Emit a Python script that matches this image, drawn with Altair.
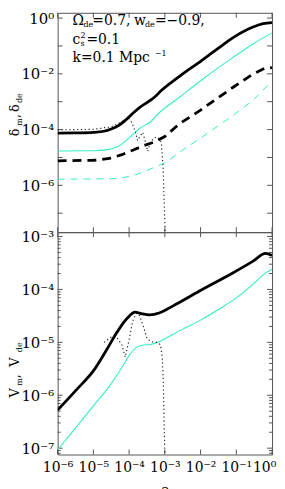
import altair as alt
import pandas as pd

# ---------------- data (log10 values) ----------------
# top panel: density contrasts
dm_loga = [-6, -5.5, -5, -4.7, -4.5, -4.3, -4.1, -3.9, -3.7, -3.5, -3.3, -3.1, -2.6, -2.0, -1.5, -1.1, -0.55, -0.25, 0]
dm_logv = [-4.13, -4.12, -4.1, -4.06, -3.98, -3.86, -3.66, -3.42, -3.2, -3.03, -2.85, -2.6, -2.1, -1.55, -1.08, -0.71, -0.33, -0.2, -0.16]

dde_loga = [-6, -5, -4.6, -4.3, -4.0, -3.7, -3.4, -3.2, -2.6, -2.0, -1.1, -0.5, 0]
dde_logv = [-4.77, -4.76, -4.72, -4.6, -4.3, -3.95, -3.72, -3.45, -2.85, -2.25, -1.42, -0.9, -0.53]

dm2_loga = [-6, -5, -4.8, -4.5, -4.2, -3.9, -3.6, -3.3, -3.0, -2.6, -2.0, -1.1, -0.55, -0.2, 0]
dm2_logv = [-5.12, -5.1, -5.08, -5.02, -4.9, -4.74, -4.58, -4.45, -4.25, -3.8, -3.3, -2.49, -2.02, -1.8, -1.78]

dde2_loga = [-6, -5, -4.5, -4.2, -3.9, -3.6, -3.3, -2.95, -2.58, -2.03, -1.1, -0.55, 0]
dde2_logv = [-5.78, -5.77, -5.76, -5.73, -5.65, -5.52, -5.36, -5.16, -4.8, -4.33, -3.5, -2.97, -2.26]

ddot_loga = [-6, -5, -4.5, -4.2, -4.02, -3.92, -3.82, -3.76, -3.7, -3.62, -3.55, -3.48, -3.4, -3.3, -3.2, -3.1, -3.05, -3.02, -2.99]
ddot_logv = [-4.01, -3.99, -3.9, -3.72, -3.58, -3.75, -4.1, -4.4, -4.25, -4.1, -4.4, -4.78, -4.45, -4.3, -4.27, -4.45, -5.3, -6.5, -7.7]

# bottom panel: velocities
vm_loga = [-6.0, -5.45, -4.99, -4.62, -4.34, -4.06, -3.83, -3.69, -3.42, -3.14, -2.77, -2.03, -1.1, -0.54, -0.18, 0]
vm_logv = [-6.28, -5.88, -5.53, -5.13, -4.81, -4.55, -4.43, -4.45, -4.48, -4.44, -4.31, -4.03, -3.69, -3.47, -3.32, -3.36]

vde_loga = [-6, -5.5, -5.0, -4.5, -4.2, -4.0, -3.8, -3.6, -3.4, -3.2, -3.0, -2.5, -2.0, -1.5, -1.0, -0.5, -0.2, 0]
vde_logv = [-7.03, -6.62, -6.2, -5.78, -5.47, -5.25, -5.1, -5.05, -5.04, -5.0, -4.93, -4.75, -4.58, -4.38, -4.16, -3.88, -3.7, -3.62]

vdot_loga = [-4.7, -4.5, -4.35, -4.2, -4.11, -4.0, -3.9, -3.8, -3.7, -3.6, -3.5, -3.4, -3.3, -3.2, -3.12, -3.07, -3.04, -3.02, -3.0]
vdot_logv = [-5.0, -4.9, -4.9, -5.05, -5.28, -4.95, -4.6, -4.45, -4.5, -4.7, -4.93, -4.98, -5.0, -5.0, -5.05, -5.3, -5.8, -6.5, -7.15]

x_tick_exp = [-6, -5, -4, -3, -2, -1, 0]
top_tick_exp = [0, -1, -2, -3, -4, -5, -6, -7]
top_label_exp = [0, -2, -4, -6]
bot_tick_exp = [-3, -4, -5, -6, -7]

# ---------------- layout ----------------
W = 216
H1 = 221
H2 = 224
FRAME = "#555555"
CYAN = "#33eec4"
FONT = "DejaVu Serif"

xscale = alt.Scale(type="log", domain=[1e-6, 1.0], nice=False)
yscale_top = alt.Scale(type="log", domain=[10 ** -7.68, 10 ** 0.19], nice=False)
yscale_bot = alt.Scale(type="log", domain=[10 ** -7.12, 10 ** -2.917], nice=False)

SUP = "['⁰','⁻¹','⁻²','⁻³','⁻⁴','⁻⁵','⁻⁶','⁻⁷','⁻⁸'][round(-log(datum.value)/LN10)]"
LABEL_EXPR = "'10' + " + SUP

x_axis_bot = alt.Axis(values=[10.0 ** e for e in x_tick_exp], labelExpr=LABEL_EXPR, title="a",
                      labelPadding=6, titlePadding=8, titleFontWeight="normal",
                      labelOverlap=False, labelFlush=False, labelFontSize=14,
                      labelOffset={"expr": "datum.value > 0.5 ? -8 : 0"},
                      titleFont=FONT, titleFontSize=15)


def y_axis(vals):
    return alt.Axis(values=[10.0 ** e for e in vals], labelExpr=LABEL_EXPR, title=None, labelPadding=4,
                    labelOverlap=False, labelFlush=False)


def mk(la, lv):
    return pd.DataFrame({"a": [10.0 ** v for v in la], "v": [10.0 ** v for v in lv]})


def line(la, lv, xenc, yenc, **kw):
    return alt.Chart(mk(la, lv)).mark_line(clip=True, **kw).encode(x=xenc, y=yenc)


def txt(s, x, y, size=14, angle=0, align="left", baseline="alphabetic"):
    return alt.Chart(pd.DataFrame({"t": [s]})).mark_text(
        text=s, font=FONT, fontSize=size, angle=angle, align=align, baseline=baseline, color="black"
    ).encode(x=alt.value(x), y=alt.value(y))


def inner_ticks(xenc_field_scale, yenc_field_scale, H, y_exps, minor=None):
    layers = []
    xt = pd.DataFrame({"a": [10.0 ** e for e in x_tick_exp]})
    xe = alt.X("a:Q", scale=xenc_field_scale[0], axis=xenc_field_scale[1])
    layers.append(alt.Chart(xt).mark_rule(color=FRAME).encode(x=xe, y=alt.value(0), y2=alt.value(5)))
    layers.append(alt.Chart(xt).mark_rule(color=FRAME).encode(x=xe, y=alt.value(H), y2=alt.value(H - 5)))
    yt = pd.DataFrame({"v": [10.0 ** e for e in y_exps]})
    ye = alt.Y("v:Q", scale=yenc_field_scale[0], axis=yenc_field_scale[1])
    layers.append(alt.Chart(yt).mark_rule(color=FRAME).encode(y=ye, x=alt.value(0), x2=alt.value(5)))
    layers.append(alt.Chart(yt).mark_rule(color=FRAME).encode(y=ye, x=alt.value(W), x2=alt.value(W - 5)))
    if minor:
        ym = pd.DataFrame({"v": minor})
        layers.append(alt.Chart(ym).mark_rule(color=FRAME).encode(y=ye, x=alt.value(0), x2=alt.value(3)))
        layers.append(alt.Chart(ym).mark_rule(color=FRAME).encode(y=ye, x=alt.value(W), x2=alt.value(W - 3)))
    return layers


# ---------------- top panel ----------------
xt_enc = alt.X("a:Q", scale=xscale, axis=None)
yt_enc = alt.Y("v:Q", scale=yscale_top, axis=y_axis(top_label_exp))

top_layers = inner_ticks((xscale, None), (yscale_top, y_axis(top_label_exp)), H1, top_tick_exp)
top_layers += [
    line(dde2_loga, dde2_logv, xt_enc, yt_enc, color=CYAN, strokeWidth=1, strokeDash=[7, 6]),
    line(dm2_loga, dm2_logv, xt_enc, yt_enc, color="black", strokeWidth=2.8, strokeDash=[9, 6]),
    line(dde_loga, dde_logv, xt_enc, yt_enc, color=CYAN, strokeWidth=1.1, interpolate="monotone"),
    line(ddot_loga, ddot_logv, xt_enc, yt_enc, color="#222222", strokeWidth=1.1, strokeDash=[1.3, 2.6]),
    line(dm_loga, dm_logv, xt_enc, yt_enc, color="black", strokeWidth=2.8, interpolate="monotone"),
    # annotation
    txt("Ω", 15, 12), txt("de", 26, 14.5, size=8), txt("=0.7,", 35, 12),
    txt("w", 77, 12), txt("de", 88, 14.5, size=8), txt("=−0.9,", 98, 12),
    txt("c", 15, 31), txt("s", 23, 33.5, size=8), txt("2", 23, 25, size=8), txt("=0.1", 29, 31),
    txt("k=0.1  Mpc", 15, 50), txt("−1", 98, 44, size=8),
    # y title
    txt("δ", -49, 120.5, size=13, angle=270, align="center", baseline="top"),
    txt("m", -42, 110, size=8, angle=270, align="center", baseline="top"),
    txt(",", -49, 104, size=13, angle=270, align="center", baseline="top"),
    txt("δ", -49, 96, size=13, angle=270, align="center", baseline="top"),
    txt("de", -42, 86, size=8, angle=270, align="center", baseline="top"),
]
top = alt.layer(*top_layers).properties(width=W, height=H1)

# ---------------- bottom panel ----------------
xb_enc = alt.X("a:Q", scale=xscale, axis=x_axis_bot)
yb_enc = alt.Y("v:Q", scale=yscale_bot, axis=y_axis(bot_tick_exp))

minor_bot = [m * 10.0 ** e for e in range(-8, -2) for m in range(2, 10)
             if 10 ** -7.12 < m * 10.0 ** e < 10 ** -2.917]

bot_layers = inner_ticks((xscale, x_axis_bot), (yscale_bot, y_axis(bot_tick_exp)), H2, bot_tick_exp, minor_bot)
bot_layers += [
    line(vde_loga, vde_logv, xb_enc, yb_enc, color=CYAN, strokeWidth=1.1, interpolate="monotone"),
    line(vdot_loga, vdot_logv, xb_enc, yb_enc, color="#222222", strokeWidth=1.1, strokeDash=[1.3, 2.6]),
    line(vm_loga, vm_logv, xb_enc, yb_enc, color="black", strokeWidth=2.8, interpolate="monotone"),
    txt("V", -49, 162, size=13, angle=270, align="center", baseline="top"),
    txt("m", -42, 151, size=8, angle=270, align="center", baseline="top"),
    txt(",", -49, 145, size=13, angle=270, align="center", baseline="top"),
    txt("V", -49, 131, size=13, angle=270, align="center", baseline="top"),
    txt("de", -42, 116, size=8, angle=270, align="center", baseline="top"),
]
bottom = alt.layer(*bot_layers).properties(width=W, height=H2)

chart = alt.vconcat(top, bottom, spacing=0, bounds="flush").properties(
    padding={"left": 0, "top": 0, "right": 0, "bottom": 0}
).configure_view(stroke=FRAME, strokeWidth=1).configure_axis(
    labelFont=FONT, labelFontSize=15, labelColor="black", domain=False, ticks=False, grid=False,
    titleColor="black"
)

chart.save("out.html", embed_options={"renderer": "svg", "actions": False})
